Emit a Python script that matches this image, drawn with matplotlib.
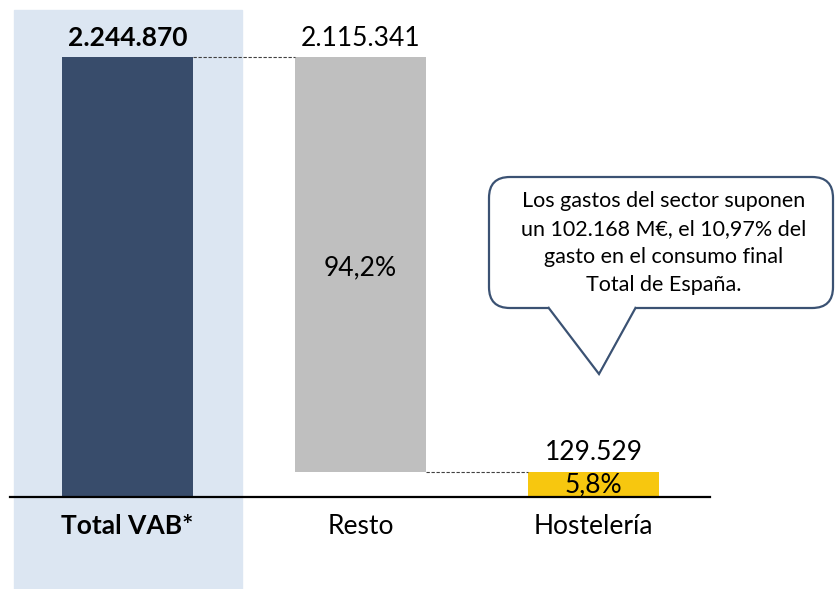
import matplotlib.pyplot as plt
from matplotlib.patches import Rectangle, FancyBboxPatch, Polygon
from matplotlib.transforms import blended_transform_factory

plt.rcParams['font.family'] = ['Lato', 'DejaVu Sans']

# datos
categorias = ['Total VAB*', 'Resto', 'Hostelería']
total = 2244870
resto = 2115341
hosteleria = 129529
etiquetas_valor = ['2.244.870', '2.115.341', '129.529']
etiquetas_pct = ['94,2%', '5,8%']
nota = ('Los gastos del sector suponen\nun 102.168 M€, el 10,97% del\n'
        'gasto en el consumo final\nTotal de España.')

c_total = '#384C6B'
c_resto = '#BFBFBF'
c_host = '#F7C70F'
c_fondo = '#DCE6F2'

W, H = 835, 589
fig = plt.figure(figsize=(W / 100, H / 100), dpi=100)
ax = fig.add_axes([10 / W, 92 / H, 700 / W, 487 / H])

x = [0, 1, 2]
ancho = 0.562
bottoms = [0, hosteleria, 0]
alturas = [total, resto, hosteleria]
colores = [c_total, c_resto, c_host]

ax.set_xlim(-0.504, 2.5)
ax.set_ylim(0, total * 487 / 440)

# fondo de la primera columna (baja hasta el borde de la figura)
tr = blended_transform_factory(ax.transData, ax.transAxes)
ax.add_patch(Rectangle((-0.487, -92 / 487), 0.978, 1 + 92 / 487,
                       transform=tr, color=c_fondo, zorder=0, clip_on=False))

ax.bar(x, alturas, width=ancho, bottom=bottoms, color=colores, zorder=2,
       linewidth=0)

# conectores
ax.plot([0 + ancho / 2, 1 - ancho / 2], [total, total],
        ls=(0, (3, 1.5)), color='#404040', lw=0.8, zorder=3)
ax.plot([1 + ancho / 2, 2 - ancho / 2], [hosteleria, hosteleria],
        ls=(0, (3, 1.5)), color='#404040', lw=0.8, zorder=3)

fs = 19
ax.text(0, total + 95000, etiquetas_valor[0], ha='center', va='center',
        fontsize=fs, fontweight='bold')
ax.text(1, total + 95000, etiquetas_valor[1], ha='center', va='center',
        fontsize=fs)
ax.text(2, hosteleria + 95000, etiquetas_valor[2], ha='center', va='center',
        fontsize=fs)
ax.text(1, hosteleria + resto / 2 - 20000, etiquetas_pct[0], ha='center',
        va='center', fontsize=fs)
ax.text(2, hosteleria / 2 - 5000, etiquetas_pct[1], ha='center',
        va='center', fontsize=fs)

ax.set_xticks(x)
ax.set_xticklabels(categorias, fontsize=fs)
ax.get_xticklabels()[0].set_fontweight('bold')
ax.tick_params(axis='x', length=0, pad=12)
ax.set_yticks([])
for s in ['top', 'left', 'right']:
    ax.spines[s].set_visible(False)
ax.spines['bottom'].set_linewidth(1.6)
ax.spines['bottom'].set_zorder(4)
ax.patch.set_alpha(0)

# bocadillo (coordenadas de pixel de la figura, y desde arriba)
def px(xp, yp):
    return (xp / W, 1 - yp / H)

col_borde = '#3B5273'
caja = FancyBboxPatch(px(489, 308), 344 / W, 131 / H,
                      boxstyle='round,pad=0,rounding_size=0.025',
                      transform=fig.transFigure, facecolor='white',
                      edgecolor=col_borde, lw=1.6, zorder=5,
                      mutation_aspect=W / H)
fig.patches.append(caja)
cola = Polygon([px(548, 307), px(599, 374), px(636, 307)], closed=False,
               transform=fig.transFigure, facecolor='white',
               edgecolor=col_borde, lw=1.6, zorder=6)
fig.patches.append(cola)
fig.patches.append(Polygon([px(549.5, 306), px(599, 371), px(634.5, 306)],
                           transform=fig.transFigure, facecolor='white',
                           edgecolor='none', zorder=7))
fig.text(664 / W, 1 - 243 / H, nota, ha='center', va='center',
         fontsize=15.5, linespacing=1.5, zorder=8)

fig.savefig('out.png', dpi=100)
